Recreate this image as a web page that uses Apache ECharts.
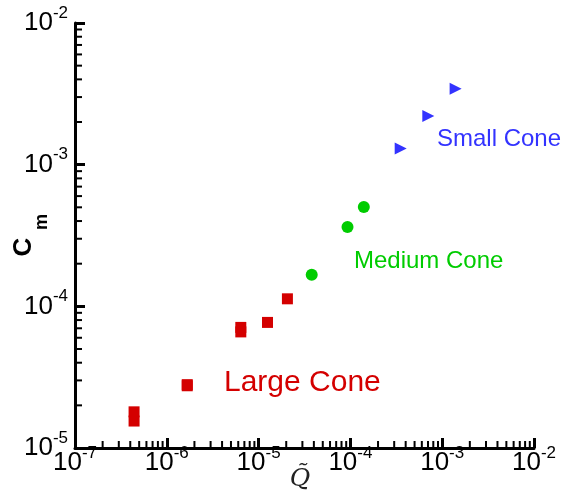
<!DOCTYPE html>
<html><head><meta charset="utf-8">
<script src="https://cdn.jsdelivr.net/npm/echarts@6/dist/echarts.min.js"></script>
<style>html,body{margin:0;padding:0;background:#fff}#c{width:567px;height:500px}</style>
</head><body><div id="c"></div>
<script>
// ---- data ----
const largeQ  = [4.4e-7, 4.4e-7, 1.67e-6, 1.67e-6, 6.4e-6, 6.4e-6, 1.25e-5, 2.06e-5];
const largeCm = [1.80e-5, 1.55e-5, 2.80e-5, 2.75e-5, 7.1e-5, 6.6e-5, 7.7e-5, 1.13e-4];
const mediumQ  = [3.79e-5, 9.3e-5, 1.40e-4];
const mediumCm = [1.67e-4, 3.63e-4, 5.03e-4];
const smallQ  = [3.53e-4, 7.06e-4, 1.40e-3];
const smallCm = [1.30e-3, 2.21e-3, 3.44e-3];
const xMajorTicks = [1e-7, 1e-6, 1e-5, 1e-4, 1e-3, 1e-2];
const yMajorTicks = [1e-5, 1e-4, 1e-3, 1e-2];
const minorMultipliers = [2, 3, 4, 5, 6, 7, 8, 9];
const seriesNames = ['Large Cone', 'Medium Cone', 'Small Cone'];

function minorTicks(majors) {
  const out = [];
  for (let i = 0; i < majors.length - 1; i++) {
    minorMultipliers.forEach(k => out.push(k * majors[i]));
  }
  return out;
}
function zip(a, b) { return a.map((v, i) => [v, b[i]]); }

const FONT = 'Liberation Sans, Arial, sans-serif';
const RED = '#d40000', GREEN = '#00cc00', BLUE = '#3333ff';
const MINOR_LEN = 7;

function expLabel(v) {
  const e = Math.round(Math.log10(v));
  return '{b|10}{s|' + e + '}';
}
const labelRich = {
  b: { fontSize: 26, fontFamily: FONT, color: '#000', lineHeight: 26 },
  s: { fontSize: 17, fontFamily: FONT, color: '#000', lineHeight: 17, padding: [0, 0, 20, 0] }
};

function majorAxis(ticks, extra) {
  return Object.assign({
    type: 'log', logBase: 10, min: ticks[0], max: ticks[ticks.length - 1],
    axisLine: { show: true, onZero: false, lineStyle: { color: '#000', width: 3 } },
    axisTick: { show: true, inside: true, length: 10, customValues: ticks, lineStyle: { color: '#000', width: 3 } },
    axisLabel: { show: true, customValues: ticks, formatter: expLabel, rich: labelRich },
    splitLine: { show: false }, minorTick: { show: false }
  }, extra);
}

// minor ticks: [x, y, dir] ; dir 0 = on x axis (at y min), 1 = on y axis (at x min)
const minorTickData = []
  .concat(minorTicks(xMajorTicks).map(v => [v, yMajorTicks[0], 0]))
  .concat(minorTicks(yMajorTicks).map(v => [xMajorTicks[0], v, 1]));

const chart = echarts.init(document.getElementById('c'), null, { renderer: 'canvas' });
const xa0 = majorAxis(xMajorTicks, { position: 'bottom' });
xa0.axisLabel.margin = 2;
const ya0 = majorAxis(yMajorTicks, { position: 'left' });
ya0.axisLabel.margin = 7;
chart.setOption({
  animation: false,
  backgroundColor: '#fff',
  grid: { left: 75, right: 33, top: 23, bottom: 52, containLabel: false },
  xAxis: [xa0],
  yAxis: [ya0],
  series: [
    { type: 'custom', coordinateSystem: 'cartesian2d', silent: true, clip: false, z: 5,
      dimensions: ['x', 'y', 'dir'], encode: { x: 0, y: 1 },
      data: minorTickData,
      renderItem: function (params, api) {
        const p = api.coord([api.value(0), api.value(1)]);
        const horiz = api.value(2) === 1;
        return { type: 'line', shape: horiz ? { x1: p[0], y1: p[1], x2: p[0] + MINOR_LEN, y2: p[1] }
                                             : { x1: p[0], y1: p[1], x2: p[0], y2: p[1] - MINOR_LEN },
                 style: { stroke: '#000', lineWidth: 2 } };
      } },
    { name: seriesNames[0], type: 'scatter', symbol: 'rect', symbolSize: [11, 11], z: 3,
      itemStyle: { color: RED, opacity: 1 }, data: zip(largeQ, largeCm) },
    { name: seriesNames[1], type: 'scatter', symbol: 'circle', symbolSize: 12, z: 3,
      itemStyle: { color: GREEN, opacity: 1 }, data: zip(mediumQ, mediumCm) },
    { name: seriesNames[2], type: 'scatter', symbol: 'triangle', symbolSize: 12, symbolRotate: -90, z: 3,
      itemStyle: { color: BLUE, opacity: 1 }, data: zip(smallQ, smallCm) }
  ],
  graphic: [
    { type: 'text', x: 224, y: 383, style: { text: seriesNames[0], fill: RED, font: '30px ' + FONT, align: 'left', verticalAlign: 'middle' } },
    { type: 'text', x: 354, y: 261, style: { text: seriesNames[1], fill: GREEN, font: '24px ' + FONT, align: 'left', verticalAlign: 'middle' } },
    { type: 'text', x: 437, y: 139, style: { text: seriesNames[2], fill: BLUE, font: '24px ' + FONT, align: 'left', verticalAlign: 'middle' } },
    { type: 'text', x: 24, y: 247, rotation: Math.PI / 2, style: { text: 'C', fill: '#000', font: 'bold 26px ' + FONT, align: 'center', verticalAlign: 'middle' } },
    { type: 'text', x: 42, y: 222, rotation: Math.PI / 2, style: { text: 'm', fill: '#000', font: 'bold 18px ' + FONT, align: 'center', verticalAlign: 'middle' } },
    { type: 'text', x: 300, y: 479, style: { text: 'Q\u0303', fill: '#222', font: 'italic 25px DejaVu Serif, serif', align: 'center', verticalAlign: 'middle' } }
  ]
});
</script>
</body></html>
